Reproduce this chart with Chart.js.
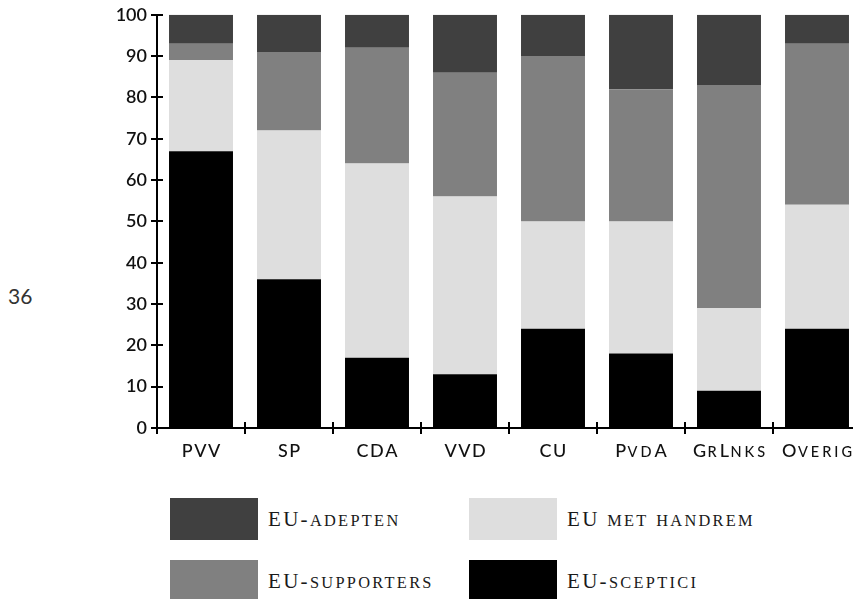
<!DOCTYPE html>
<html>
<head>
<meta charset="utf-8">
<script src="https://cdn.jsdelivr.net/npm/chart.js@4.4.0/dist/chart.umd.min.js"></script>
<style>
  body { margin: 0; width: 853px; height: 599px; overflow: hidden; background: #fff; position: relative; }
  #wrap { position: absolute; left: 0; top: 0; width: 862px; height: 470px; }
  .pagenr { position: absolute; left: 8px; top: 283px; font-family: Lato, sans-serif; font-size: 21px; color: #333; }
  .item { position: absolute; height: 42px; }
  .item .box { position: absolute; left: 0; top: 0; width: 88px; height: 42px; }
  .item .lbl { position: absolute; left: 98px; top: 9px; white-space: nowrap; line-height: 24px;
    font-family: "Liberation Serif", serif; font-size: 21px; letter-spacing: 2.3px; color: #1a1a1a; }
  .item .lbl .sc { text-transform: uppercase; font-size: 0.78em; }
</style>
</head>
<body>
<div class="pagenr">36</div>
<div id="wrap"><canvas id="chart"></canvas></div>
<div id="legend"></div>
<script>
const partijen = ['PVV', 'SP', 'CDA', 'VVD', 'CU', 'PvdA', 'GrLnks', 'Overig'];
const sceptici   = [67, 36, 17, 13, 24, 18,  9, 24];
const handrem    = [22, 36, 47, 43, 26, 32, 20, 30];
const supporters = [ 4, 19, 28, 30, 40, 32, 54, 39];
const adepten    = [ 7,  9,  8, 14, 10, 18, 17,  7];
const yTicks = [0, 10, 20, 30, 40, 50, 60, 70, 80, 90, 100];

const series = [
    { label: 'EU-sceptici', data: sceptici, color: '#000000' },
    { label: 'EU met handrem', data: handrem, color: '#dedede' },
    { label: 'EU-supporters', data: supporters, color: '#808080' },
    { label: 'EU-adepten', data: adepten, color: '#404040' },
];

// ticks die door de as heen steken
const crossTicks = {
    id: 'crossTicks',
    afterDraw(chart) {
        const ctx = chart.ctx;
        const area = chart.chartArea;
        const yScale = chart.scales.y;
        ctx.save();
        ctx.strokeStyle = '#000';
        ctx.lineWidth = 2;
        ctx.beginPath();
        yTicks.forEach((v) => {
            const py = Math.round(yScale.getPixelForValue(v));
            ctx.moveTo(area.left, py);
            ctx.lineTo(area.left + 6, py);
        });
        const step = (area.right - area.left) / partijen.length;
        for (let i = 0; i <= partijen.length; i++) {
            const px = Math.round(area.left + i * step);
            ctx.moveTo(px, area.bottom);
            ctx.lineTo(px, area.bottom - 6);
        }
        ctx.stroke();
        ctx.restore();
    }
};

// categorielabels in kleinkapitaal
const smallCapsLabels = {
    id: 'smallCapsLabels',
    afterDraw(chart) {
        const ctx = chart.ctx;
        const xScale = chart.scales.x;
        const baseline = chart.chartArea.bottom + 29;
        ctx.save();
        ctx.fillStyle = '#111';
        ctx.textBaseline = 'alphabetic';
        ctx.textAlign = 'left';
        partijen.forEach((name, i) => {
            const parts = name.split('').map((ch) => {
                const small = ch !== ch.toUpperCase();
                const font = (small ? '500 14.5px' : '500 18px') + ' Lato';
                ctx.font = font;
                const g = ch.toUpperCase();
                return { g, font, w: ctx.measureText(g).width, sp: small ? 3 : 1.5 };
            });
            let total = 0;
            parts.forEach((p, k) => { total += p.w + (k < parts.length - 1 ? p.sp : 0); });
            let px = xScale.getPixelForTick(i) - total / 2;
            parts.forEach((p) => {
                ctx.font = p.font;
                ctx.fillText(p.g, px, baseline);
                px += p.w + p.sp;
            });
        });
        ctx.restore();
    }
};

new Chart(document.getElementById('chart'), {
    type: 'bar',
    data: {
        labels: partijen,
        datasets: series.map((s) => ({
            label: s.label,
            data: s.data,
            backgroundColor: s.color,
            borderWidth: 0,
            barPercentage: 0.727,
            categoryPercentage: 1.0,
        })),
    },
    options: {
        responsive: true,
        maintainAspectRatio: false,
        animation: false,
        layout: { padding: { top: 12, right: 1, left: 0, bottom: 0 } },
        plugins: {
            legend: { display: false },
            tooltip: { enabled: false },
        },
        scales: {
            x: {
                stacked: true,
                grid: { display: true, drawOnChartArea: false, drawTicks: true, tickLength: 6, color: '#000', lineWidth: 2 },
                border: { display: true, color: '#000', width: 2 },
                ticks: { display: false },
                afterFit: (scale) => { scale.height = 42; },
            },
            y: {
                stacked: true,
                min: 0,
                max: 100,
                grid: { display: true, drawOnChartArea: false, drawTicks: true, tickLength: 6, color: '#000', lineWidth: 2 },
                border: { display: true, color: '#000', width: 2 },
                ticks: {
                    stepSize: 10,
                    color: '#111',
                    padding: 4,
                    font: { family: 'Lato', size: 18, weight: '600' },
                },
                afterFit: (scale) => { scale.width = 157; },
            },
        },
    },
    plugins: [crossTicks, smallCapsLabels],
});

// legenda in twee kolommen; kleine letters als kleinkapitaal
const legendPos = [
    { idx: 3, left: 170, top: 498 },
    { idx: 1, left: 469, top: 498 },
    { idx: 2, left: 170, top: 560 },
    { idx: 0, left: 469, top: 560 },
];
const legend = document.getElementById('legend');
legendPos.forEach((p) => {
    const s = series[p.idx];
    const el = document.createElement('div');
    el.className = 'item';
    el.style.left = p.left + 'px';
    el.style.top = p.top + 'px';
    const html = s.label.replace(/[a-z]+/g, (m) => '<span class="sc">' + m + '</span>');
    el.innerHTML = '<div class="box" style="background:' + s.color + '"></div><div class="lbl">' + html + '</div>';
    legend.appendChild(el);
});
</script>
</body>
</html>
